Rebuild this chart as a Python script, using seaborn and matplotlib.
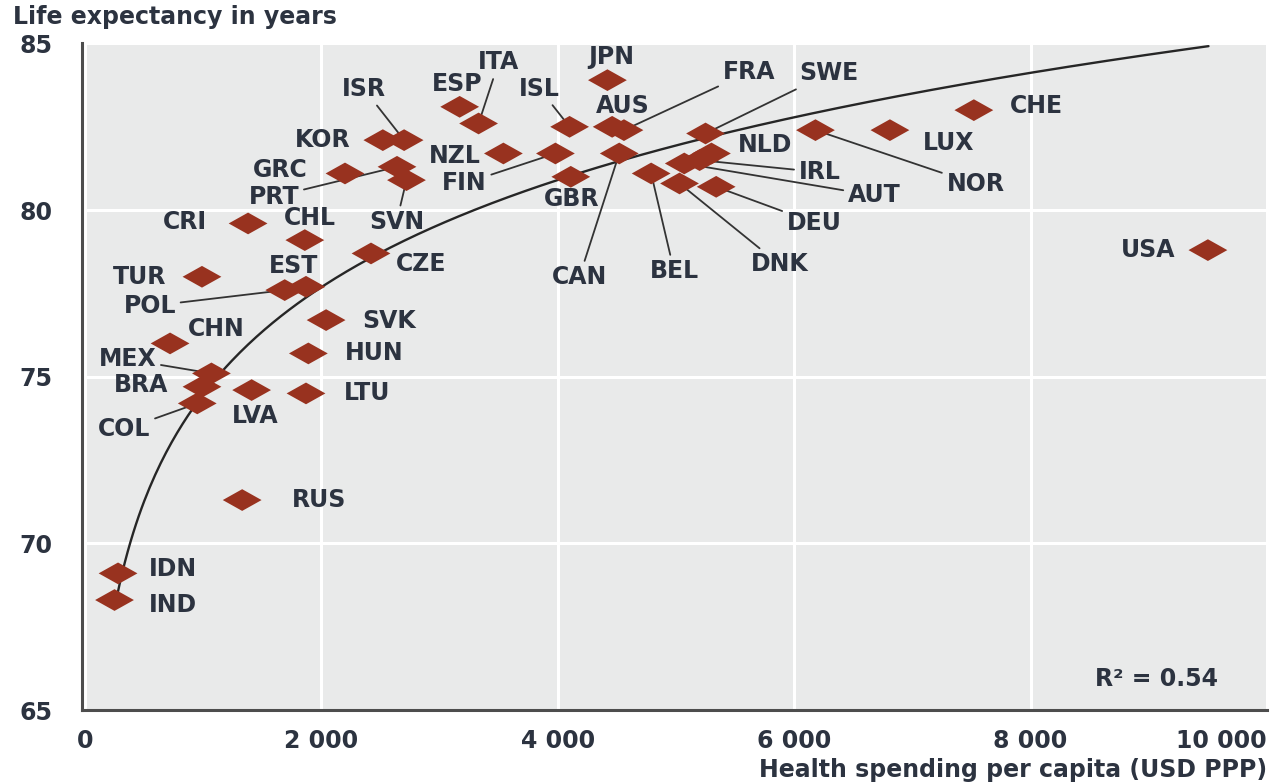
import numpy as np
import pandas as pd
import matplotlib
matplotlib.use("Agg")
import matplotlib.pyplot as plt
from matplotlib.path import Path
import seaborn as sns

# ---------------- data ----------------
countries = ["JPN", "AUS", "FRA", "SWE", "ISL", "ITA", "ESP", "NZL", "FIN", "GBR",
             "CAN", "BEL", "NLD", "IRL", "AUT", "DNK", "DEU", "NOR", "LUX", "CHE",
             "USA", "KOR", "ISR", "GRC", "PRT", "SVN", "CRI", "CHL", "CZE", "TUR",
             "POL", "EST", "SVK", "CHN", "HUN", "MEX", "BRA", "LTU", "LVA", "COL",
             "RUS", "IDN", "IND"]
spending = [4420, 4460, 4560, 5250, 4100, 3330, 3170, 3540, 3980, 4110,
            4520, 4790, 5300, 5200, 5070, 5030, 5340, 6180, 6810, 7520,
            9500, 2520, 2700, 2200, 2640, 2720, 1380, 1860, 2420, 990,
            1690, 1870, 2040, 720, 1890, 1070, 990, 1870, 1410, 950,
            1330, 280, 250]
life_exp = [83.9, 82.5, 82.4, 82.3, 82.5, 82.6, 83.1, 81.7, 81.7, 81.0,
            81.7, 81.1, 81.7, 81.5, 81.4, 80.8, 80.7, 82.4, 82.4, 83.0,
            78.8, 82.1, 82.1, 81.1, 81.3, 80.9, 79.6, 79.1, 78.7, 78.0,
            77.6, 77.7, 76.7, 76.0, 75.7, 75.1, 74.7, 74.5, 74.6, 74.2,
            71.3, 69.1, 68.3]

# logarithmic trend
trend_intercept = 42.42
trend_slope = 4.64
trend_x_start = 270
trend_x_end = 9505
r2_text = "R² = 0.54"

x_ticks = [0, 2000, 4000, 6000, 8000, 10000]
x_tick_labels = ["0", "2 000", "4 000", "6 000", "8 000", "10 000"]
y_ticks = [65, 70, 75, 80, 85]
y_tick_labels = ["65", "70", "75", "80", "85"]
y_title = "Life expectancy in years"
x_title = "Health spending per capita (USD PPP)"

# ---------------- layout (label offsets in pixels: dx right, dy down, leader line) ----------------
label_layout = {
    "JPN": (4, -23, False), "AUS": (11, -21, False), "FRA": (125, -58, True),
    "SWE": (123, -60, True), "ISL": (-30, -38, True), "ITA": (20, -61, True),
    "ESP": (-2, -23, False), "NZL": (-49, 3, False), "FIN": (-91, 30, True),
    "GBR": (1, 22, False), "CAN": (-40, 124, True), "BEL": (23, 98, True),
    "NLD": (54, -8, False), "IRL": (120, 12, True), "AUT": (190, 32, True),
    "DNK": (100, 81, True), "DEU": (98, 36, True), "NOR": (160, 54, True),
    "LUX": (59, 13, False), "CHE": (63, -4, False), "USA": (-60, 0, False),
    "KOR": (-60, 0, False), "ISR": (-40, -51, True), "GRC": (-65, -3, False),
    "PRT": (-123, 30, True), "SVN": (-10, 42, True), "CRI": (-63, -1, False),
    "CHL": (5, -22, False), "CZE": (50, 11, False), "TUR": (-62, 0, False),
    "POL": (-135, 16, True), "EST": (-12, -21, False), "SVK": (63, 1, False),
    "CHN": (46, -14, False), "HUN": (66, 0, False), "MEX": (-84, -14, True),
    "BRA": (-61, -2, False), "LTU": (61, 0, False), "LVA": (4, 26, False),
    "COL": (-73, 26, True), "RUS": (77, 0, False), "IDN": (55, -4, False),
    "IND": (58, 5, False),
}

TEXT_COLOR = "#2c3340"
MARK_COLOR = "#98321f"
BG = "#e9eaea"
FS = 17

sns.set_style("white")
plt.rcParams["font.family"] = ["DejaVu Sans"]

W, H = 1274, 783
fig = plt.figure(figsize=(W / 100, H / 100), dpi=100)
ax = fig.add_axes([82 / W, 1 - 710 / H, 1185 / W, (710 - 43.5) / H])
ax.set_facecolor(BG)

df = pd.DataFrame({"country": countries, "spend": spending, "life": life_exp})

diamond = Path([(-1, 0), (0, 0.56), (1, 0), (0, -0.56), (-1, 0)],
               [Path.MOVETO, Path.LINETO, Path.LINETO, Path.LINETO, Path.CLOSEPOLY])

tx = np.linspace(trend_x_start, trend_x_end, 400)
trend = pd.DataFrame({"x": tx, "y": trend_intercept + trend_slope * np.log(tx)})
sns.lineplot(data=trend, x="x", y="y", color="#262626", lw=1.7, ax=ax, zorder=3)

sns.scatterplot(data=df, x="spend", y="life", marker=diamond, s=780,
                color=MARK_COLOR, edgecolor="none", linewidth=0, ax=ax, zorder=4)

for c, x, y in zip(countries, spending, life_exp):
    dx, dy, leader = label_layout[c]
    ax.annotate(c, xy=(x, y), xytext=(dx, -dy), textcoords="offset pixels",
                ha="center", va="center", fontsize=FS, fontweight="bold",
                color=TEXT_COLOR, zorder=3.5,
                arrowprops=dict(arrowstyle="-", color="#333333", lw=1.3,
                                shrinkA=1, shrinkB=0) if leader else None)

ax.text(0.9586, 0.0465, r2_text, transform=ax.transAxes, ha="right", va="center",
        fontsize=FS, fontweight="bold", color=TEXT_COLOR)

ax.set_xlim(-25, 10000)
ax.set_ylim(65, 85)
ax.set_xticks(x_ticks)
ax.set_xticklabels(x_tick_labels)
ax.set_yticks(y_ticks)
ax.set_yticklabels(y_tick_labels)
ax.set_xlabel("")
ax.set_ylabel("")

ax.grid(True, color="white", lw=2.2)
ax.set_axisbelow(True)
for s in ["top", "right"]:
    ax.spines[s].set_visible(False)
for s in ["left", "bottom"]:
    ax.spines[s].set_color("#4d4d4d")
    ax.spines[s].set_linewidth(2.2)

ax.tick_params(axis="y", direction="in", length=13, width=1.5, color="#666666",
               pad=21, labelsize=FS, labelcolor=TEXT_COLOR)
ax.tick_params(axis="x", direction="in", length=5, width=1.5, color="#666666",
               pad=14, labelsize=FS, labelcolor=TEXT_COLOR)
for lab in ax.get_xticklabels() + ax.get_yticklabels():
    lab.set_fontweight("bold")
ax.get_xticklabels()[-1].set_ha("right")

fig.text(13 / W, 1 - 17 / H, y_title, ha="left", va="center", fontsize=FS,
         fontweight="bold", color=TEXT_COLOR)
fig.text(1267 / W, 1 - 770 / H, x_title, ha="right", va="center", fontsize=FS,
         fontweight="bold", color=TEXT_COLOR)

fig.savefig("out.png", dpi=100, facecolor="white")
